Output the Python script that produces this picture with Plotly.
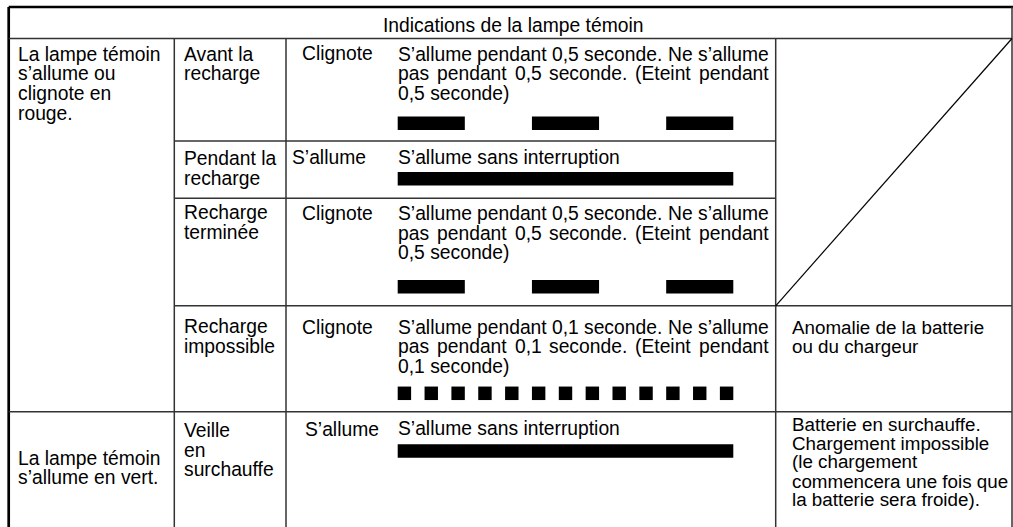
import plotly.graph_objects as go

# ---------------- data (content only) ----------------
header = "Indications de la lampe témoin"
lamp_groups = [
    ["La lampe témoin", "s’allume ou", "clignote en", "rouge."],
    ["La lampe témoin", "s’allume en vert."],
]
states = [
    ["Avant la", "recharge"],
    ["Pendant la", "recharge"],
    ["Recharge", "terminée"],
    ["Recharge", "impossible"],
    ["Veille", "en", "surchauffe"],
]
modes = ["Clignote", "S’allume", "Clignote", "Clignote", "S’allume"]
descriptions = [
    ["S’allume pendant 0,5 seconde. Ne s’allume",
     "pas pendant 0,5 seconde. (Eteint pendant",
     "0,5 seconde)"],
    ["S’allume sans interruption"],
    ["S’allume pendant 0,5 seconde. Ne s’allume",
     "pas pendant 0,5 seconde. (Eteint pendant",
     "0,5 seconde)"],
    ["S’allume pendant 0,1 seconde. Ne s’allume",
     "pas pendant 0,1 seconde. (Eteint pendant",
     "0,1 seconde)"],
    ["S’allume sans interruption"],
]
remarks = [
    None, None, None,
    ["Anomalie de la batterie", "ou du chargeur"],
    ["Batterie en surchauffe.", "Chargement impossible", "(le chargement",
     "commencera une fois que", "la batterie sera froide)."],
]
on_seconds = [0.5, 2.5, 0.5, 0.1, 2.5]
off_seconds = [0.5, 0.0, 0.5, 0.1, 0.0]
window_seconds = 2.5

# ---------------- layout / style ----------------
W, H = 1013, 527
FONT = "Liberation Sans, Arial, Helvetica, sans-serif"
FS = 19.3
FS_REMARK = 18.8
LINE_C = "#333333"
X_LEFT, X_C1, X_C2, X_C3, X_RIGHT = 8.7, 174.3, 286.0, 775.7, 1012.0
Y_TOP, Y_HEAD = 7.0, 38.5
row_bottoms = [141.0, 198.3, 305.8, 411.7, 527.0]

group_x = 16.7
group_baselines = [[60.7, 80.5, 100.3, 120.0], [465.0, 484.5]]
state_x = 182.7
state_baselines = [[60.7, 80.5], [165.0, 184.8], [219.5, 239.0], [333.5, 353.0], [437.0, 456.7, 476.5]]
mode_x = [300.7, 291.0, 300.7, 300.7, 303.5]
mode_baselines = [60.5, 164.5, 220.5, 334.0, 436.0]
desc_x0, desc_x1 = 397.0, 767.7
desc_baselines = [[60.7, 80.5, 100.0], [164.0], [220.5, 240.0, 259.5], [334.5, 353.5, 373.0], [435.0]]
bar_centers = [123.3, 178.7, 286.7, 393.3, 451.0]
bar_thickness = 13.5
bar_px0, bar_px1 = 397.7, 733.3
remark_x = 790.5
remark_baselines = [None, None, None, [334.5, 353.5], [431.2, 449.8, 468.2, 487.6, 506.0]]
header_center, header_baseline = 513.3, 31.7

# Arial / Liberation Sans advance widths (per 1000 em)
AFM = {" ": 278, "’": 222, "'": 191, ",": 278, ".": 278, "(": 333, ")": 333,
       "0": 556, "1": 556, "5": 556,
       "A": 667, "B": 667, "C": 722, "E": 667, "I": 278, "L": 556, "N": 722,
       "P": 667, "R": 722, "S": 667, "V": 667,
       "a": 556, "b": 556, "c": 500, "d": 556, "e": 556, "f": 278, "g": 556,
       "h": 556, "i": 222, "l": 222, "m": 833, "n": 556, "o": 556, "p": 556,
       "q": 556, "r": 333, "s": 500, "t": 278, "u": 556, "v": 500, "é": 556}


def text_w(s, size=FS):
    return sum(AFM.get(ch, 556) for ch in s) * size / 1000.0


fig = go.Figure()


def put(text, x, baseline, anchor="left", size=FS):
    fig.add_annotation(x=x, y=baseline - 0.3465 * size, text=text, xanchor=anchor,
                       yanchor="middle", showarrow=False, borderpad=0,
                       xref="x", yref="y",
                       font=dict(family=FONT, size=size, color="black"))


def put_justified(text, x0, x1, baseline):
    words = text.split(" ")
    widths = [text_w(w) for w in words]
    gap = (x1 - x0 - sum(widths)) / (len(words) - 1)
    x = x0
    for w, wd in zip(words, widths):
        put(w, x, baseline)
        x += wd + gap


def hline(x0, x1, y, width=1.5, color=LINE_C):
    fig.add_shape(type="line", x0=x0, x1=x1, y0=y, y1=y, xref="x", yref="y",
                  line=dict(color=color, width=width))


def vline(x, y0, y1, width=1.5, color=LINE_C):
    fig.add_shape(type="line", x0=x, x1=x, y0=y0, y1=y1, xref="x", yref="y",
                  line=dict(color=color, width=width))


# ---------------- grid ----------------
hline(X_LEFT, W, Y_TOP, width=2.7, color="black")
vline(X_LEFT, Y_TOP, H, width=2.7, color="black")
vline(X_RIGHT, Y_TOP, H, width=1.5)
hline(X_LEFT, X_RIGHT, Y_HEAD)
vline(X_C1, Y_HEAD, H)
vline(X_C2, Y_HEAD, H)
vline(X_C3, Y_HEAD, H)
hline(X_C1, X_C3, row_bottoms[0])
hline(X_C1, X_C3, row_bottoms[1])
hline(X_C1, X_RIGHT, row_bottoms[2])
hline(X_LEFT, X_RIGHT, row_bottoms[3])
fig.add_shape(type="line", x0=X_RIGHT, y0=Y_HEAD, x1=X_C3, y1=row_bottoms[2],
              xref="x", yref="y", line=dict(color="black", width=1.2))

# ---------------- texts ----------------
put(header, header_center, header_baseline, anchor="center")
for lines, bases in zip(lamp_groups, group_baselines):
    for t, b in zip(lines, bases):
        put(t, group_x, b)
for lines, bases in zip(states, state_baselines):
    for t, b in zip(lines, bases):
        put(t, state_x, b)
for t, x, b in zip(modes, mode_x, mode_baselines):
    put(t, x, b)
for lines, bases in zip(descriptions, desc_baselines):
    for i, (t, b) in enumerate(zip(lines, bases)):
        if i < len(lines) - 1:
            put_justified(t, desc_x0, desc_x1, b)
        else:
            put(t, desc_x0, b)
for lines, bases in zip(remarks, remark_baselines):
    if lines:
        for t, b in zip(lines, bases):
            put(t, remark_x, b, size=FS_REMARK)

# ---------------- blink patterns (time axis) ----------------
px_per_s = (bar_px1 - bar_px0) / window_seconds
t_min = -bar_px0 / px_per_s
t_max = (W - bar_px0) / px_per_s
for on, off, yc in zip(on_seconds, off_seconds, bar_centers):
    starts, durs = [], []
    t = 0.0
    while t < window_seconds - 1e-9:
        starts.append(t)
        durs.append(min(on, window_seconds - t))
        t += on + off
    fig.add_trace(go.Bar(x=durs, base=starts, y=[yc] * len(starts), orientation="h",
                         width=bar_thickness, xaxis="x2", yaxis="y",
                         marker=dict(color="black", line=dict(width=0)),
                         hoverinfo="skip", showlegend=False))

fig.update_layout(
    width=W, height=H, autosize=False,
    margin=dict(l=0, r=0, t=0, b=0, pad=0),
    paper_bgcolor="white", plot_bgcolor="white",
    barmode="overlay", showlegend=False, hovermode=False,
    xaxis=dict(range=[0, W], visible=False, fixedrange=True),
    xaxis2=dict(range=[t_min, t_max], overlaying="x", anchor="y", visible=False, fixedrange=True),
    yaxis=dict(range=[H, 0], visible=False, fixedrange=True),
)

fig.write_html("out.html", config={"displayModeBar": False},
               post_script="document.body.style.margin='0';document.body.style.overflow='hidden';")
